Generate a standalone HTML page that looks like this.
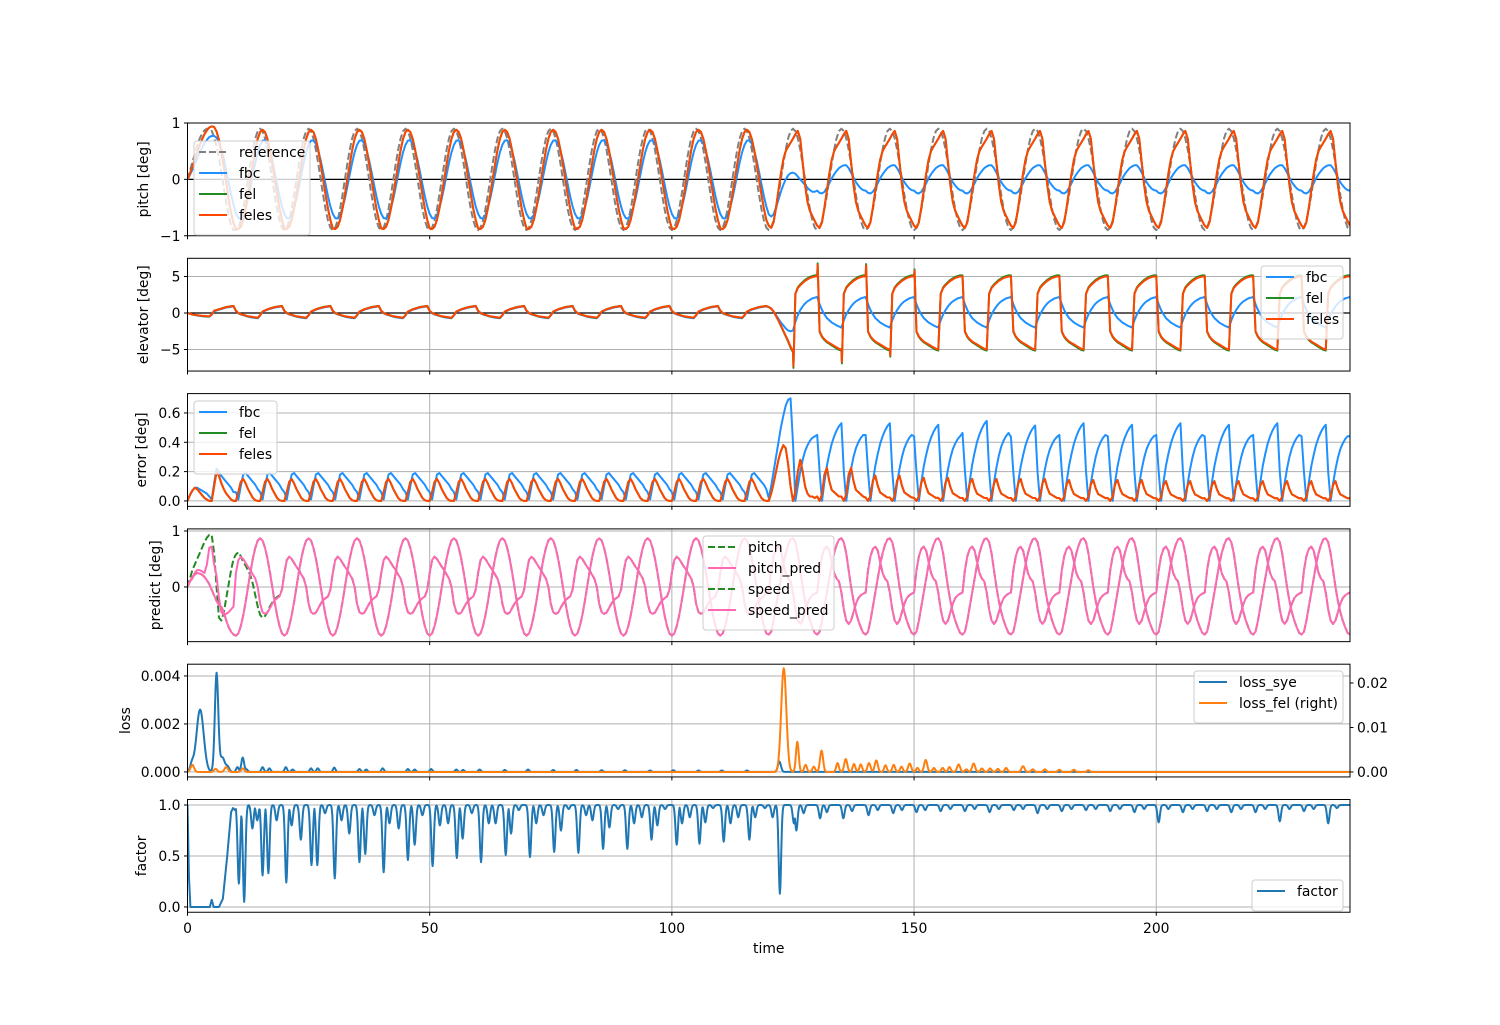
<!DOCTYPE html>
<html><head><meta charset="utf-8"><title>Flight control simulation: pitch, elevator, error, prediction, loss and factor over time</title>
<style>
html,body{margin:0;padding:0;background:#fff;}
svg{display:block;font-family:"DejaVu Sans","Liberation Sans",sans-serif;}
</style></head>
<body>
<svg id="fig" width="1500" height="1025" viewBox="0 0 1500 1025" xmlns="http://www.w3.org/2000/svg">
<rect x="0" y="0" width="1500" height="1025" fill="#ffffff"/>
</svg>
<script>
// ---------- data: one-period templates (20 samples, step 0.5 s, period 10 s) ----------
const cycleKinds = ['F','A','A','A','A','A','A','A','A','A','A','A','T','B','B','B','B','B','B','B','B','B','B','B'];
const xTickValues = [0,50,100,150,200];
const xTickLabels = ['0','50','100','150','200'];

// pitch panel
const pitchRefF = [0,0.15,0.3,0.45,0.6,0.72,0.81,0.87,0.9,0.9,0.86,0.75,0.58,0.37,0.12,-0.15,-0.42,-0.65,-0.82,-0.9];
const pitchRefA = [-0.9,-0.856,-0.728,-0.529,-0.278,0,0.278,0.529,0.728,0.856,0.9,0.856,0.728,0.529,0.278,0,-0.278,-0.529,-0.728,-0.856];
const pitchFbcF = [0,0.08,0.17,0.27,0.37,0.47,0.56,0.64,0.7,0.75,0.77,0.77,0.74,0.66,0.53,0.36,0.16,-0.06,-0.27,-0.45];
const pitchFbcA = [-0.613,-0.687,-0.694,-0.633,-0.51,-0.337,-0.131,0.088,0.298,0.48,0.613,0.687,0.694,0.633,0.51,0.337,0.131,-0.088,-0.298,-0.48];
const pitchFbcT = [-0.62,-0.66,-0.62,-0.5,-0.36,-0.22,-0.1,0.0,0.07,0.11,0.12,0.1,0.05,0.0,-0.05,-0.1,-0.15,-0.19,-0.22,-0.22];
const pitchFbcB = [-0.2,-0.24,-0.25,-0.22,-0.15,-0.07,0.02,0.09,0.15,0.2,0.23,0.25,0.25,0.2,0.12,0.03,-0.05,-0.11,-0.16,-0.19];
const pitchFelF = [0,0.1,0.22,0.35,0.48,0.6,0.71,0.8,0.87,0.92,0.94,0.93,0.85,0.7,0.48,0.22,-0.06,-0.35,-0.6,-0.78];
const pitchFelA = [-0.87,-0.88,-0.84,-0.72,-0.52,-0.27,0,0.27,0.52,0.72,0.84,0.88,0.84,0.72,0.52,0.27,0,-0.27,-0.52,-0.72];
const pitchFelB = [-0.82,-0.86,-0.76,-0.5,-0.2,0.1,0.35,0.5,0.58,0.65,0.72,0.8,0.86,0.72,0.3,-0.1,-0.4,-0.56,-0.65,-0.74];
const pitchTicks = [-1,0,1];
const pitchTickLabels = ['\u22121','0','1'];

// elevator panel
const elevFelF = [0,-0.1,-0.2,-0.25,-0.3,-0.35,-0.4,-0.4,-0.45,-0.45,-0.2,0.3,0.4,0.5,0.6,0.7,0.8,0.85,0.9,0.95];
const elevFelA = [0.3,0.0,-0.15,-0.25,-0.35,-0.45,-0.5,-0.55,-0.6,-0.65,-0.3,0.2,0.35,0.5,0.6,0.7,0.8,0.85,0.9,0.95];
const elevFelT = [0.8,0.6,0.2,-0.4,-1.0,-1.7,-2.4,-3.1,-3.8,-4.6,-5.2,2.6,3.4,3.8,4.1,4.4,4.6,4.8,4.9,5.0];
const elevFelB = [5.0,-2.5,-3.2,-3.6,-3.9,-4.1,-4.3,-4.5,-4.7,-4.9,-5.0,2.6,3.4,3.8,4.1,4.4,4.6,4.8,4.9,5.0];
const elevFbcF = [0,-0.1,-0.2,-0.28,-0.34,-0.4,-0.45,-0.48,-0.5,-0.5,-0.25,0.2,0.35,0.45,0.55,0.65,0.75,0.8,0.85,0.9];
const elevFbcA = [0.25,-0.05,-0.2,-0.3,-0.4,-0.5,-0.58,-0.63,-0.68,-0.72,-0.35,0.15,0.3,0.45,0.55,0.65,0.75,0.8,0.85,0.9];
const elevFbcT = [0.8,0.6,0.2,-0.3,-0.8,-1.3,-1.7,-2.1,-2.4,-2.5,-2.4,-1.2,-0.3,0.4,0.9,1.3,1.6,1.8,2.0,2.1];
const elevFbcB = [2.2,1.2,0.4,-0.2,-0.7,-1.0,-1.3,-1.5,-1.7,-1.85,-2.0,-1.0,-0.2,0.4,0.9,1.3,1.6,1.8,2.0,2.1];
const elevSpikeT = [125.1,130.1,135.1,140.1,145.1,150.1];
const elevSpikeV = [-7.3,6.6,-6.7,6.5,-5.8,5.8];
const elevTicks = [-5,0,5];
const elevTickLabels = ['\u22125','0','5'];

// error panel
const errFbcF = [0,0.04,0.07,0.09,0.09,0.08,0.07,0.06,0.05,0.03,0.01,0.12,0.22,0.2,0.17,0.15,0.13,0.11,0.09,0.06];
const errFbcA = [0.06,0.01,0.1,0.18,0.19,0.17,0.15,0.13,0.11,0.08,0.06,0.01,0.1,0.18,0.19,0.17,0.15,0.13,0.11,0.08];
const errFbcT = [0.02,0.1,0.2,0.3,0.4,0.5,0.58,0.65,0.69,0.7,0.4,0.0,0.1,0.2,0.28,0.34,0.38,0.41,0.43,0.44];
const errFbcB = [0.45,0.2,0.0,0.13,0.24,0.32,0.39,0.44,0.48,0.51,0.53,0.2,0.0,0.12,0.22,0.3,0.36,0.4,0.43,0.45];
const errFbcScale = [1,1,1,1,1,1,1,1,1,1,1,1,1,1,1.0,0.98,1.03,0.97,1.0,0.98,1.0,0.98,1.0,0.98];
const errFelF = [0,0.04,0.07,0.09,0.08,0.06,0.04,0.02,0.01,0.0,0.0,0.1,0.2,0.17,0.12,0.08,0.05,0.03,0.01,0.0];
const errFelA = [0.0,0.06,0.13,0.15,0.12,0.08,0.05,0.02,0.005,0.0,0.0,0.06,0.13,0.15,0.12,0.08,0.05,0.02,0.005,0.0];
const errFelT = [0.0,0.05,0.12,0.2,0.28,0.34,0.38,0.36,0.25,0.1,0.0,0.06,0.2,0.28,0.2,0.1,0.05,0.03,0.03,0.02];
const errFelB = [0.02,0.0,0.03,0.12,0.15,0.09,0.05,0.04,0.03,0.02,0.02,0.0,0.03,0.12,0.15,0.09,0.05,0.04,0.03,0.02];
const errFelScale = [1,1,1,1,1,1,1,1,1,1,1,1,1,1.5,1.15,1.05,1.0,1.0,0.95,0.95,0.9,0.9,0.9,0.9];
const errTicks = [0,0.2,0.4,0.6];
const errTickLabels = ['0.0','0.2','0.4','0.6'];

// predict panel
const predPitchF = [0,0.1,0.15,0.25,0.3,0.3,0.28,0.25,0.4,0.7,0.72,0.4,0.2,-0.2,-0.45,-0.5,-0.48,-0.45,-0.4,-0.35];
const predPitchA = [0.25,0.48,0.54,0.5,0.43,0.36,0.3,0.22,0.15,0.0,-0.3,-0.45,-0.48,-0.46,-0.38,-0.3,-0.24,-0.2,-0.17,-0.05];
const predPitchB = [-0.1,0.3,0.55,0.68,0.72,0.65,0.45,0.25,0.15,0.1,-0.1,-0.4,-0.6,-0.66,-0.6,-0.45,-0.3,-0.2,-0.15,-0.12];
const truePitchF = [0,0.15,0.3,0.4,0.5,0.6,0.7,0.8,0.88,0.93,0.93,0.6,0.0,-0.55,-0.6,-0.45,-0.2,0.05,0.3,0.5];
const truePitchG = [0.58,0.62,0.55,0.45,0.38,0.3,0.2,0.05,-0.15,-0.35,-0.5,-0.55,-0.52,-0.45,-0.35,-0.28,-0.22,-0.18,-0.15,-0.05];
const predSpeedF = [0,0.1,0.18,0.22,0.25,0.24,0.22,0.18,0.12,0.05,-0.05,-0.15,-0.25,-0.32,-0.36,-0.45,-0.6,-0.72,-0.8,-0.85];
const predSpeedA = [-0.87,-0.83,-0.7,-0.51,-0.27,0,0.27,0.51,0.7,0.83,0.87,0.83,0.7,0.51,0.27,0,-0.27,-0.51,-0.7,-0.83];
const predSpeedB = [-0.85,-0.8,-0.6,-0.35,-0.1,0.15,0.4,0.6,0.75,0.85,0.87,0.8,0.6,0.3,0.0,-0.25,-0.45,-0.6,-0.72,-0.82];
const predTicks = [0,1];
const predTickLabels = ['0','1'];

// loss panel (peak times / heights / widths)
const lossSyeT = [0.9,2.6,6.0,7.2,8.3,10.3,11.4,12.2,15.5,16.9,20.3,21.7,25.5,26.9,30.3,35.5,36.9,40.3,45.5,46.9,50.3,55.5,56.9,60.3,65.5,70.3,75.5,80.3,85.5,90.3,95.5,100.3,105.5,110.3,115.5,122.2];
const lossSyeV = [0.0003,0.0026,0.0041,0.0006,0.0002,0.0002,0.0006,0.0001,0.0002,0.00015,0.0002,0.0001,0.00015,0.00015,0.00018,0.00012,0.0001,0.00015,0.00012,0.0001,0.00012,0.0001,0.00008,0.0001,0.00008,0.0001,0.00008,0.00008,0.00007,0.00007,0.00006,0.00007,0.00006,0.00006,0.00006,0.00043];
const lossSyeW = [0.5,1.05,0.5,0.7,0.5,0.35,0.4,0.35,0.35,0.35,0.35,0.35,0.35,0.35,0.35,0.35,0.35,0.35,0.35,0.35,0.35,0.35,0.35,0.35,0.35,0.35,0.35,0.35,0.35,0.35,0.35,0.35,0.35,0.35,0.35,0.45];
const lossFelT = [1.0,5.8,8.0,11.4,123.1,125.9,127.6,129.3,130.9,134.2,135.9,137.6,139.0,140.7,142.2,144.1,145.8,147.4,149.1,150.7,152.4,154.1,155.9,157.3,159.2,160.8,162.3,164.0,165.7,167.3,169.0,172.5,174.5,177.0,180.0,183.0,186.0];
const lossFelV = [0.0016,0.0007,0.0011,0.0008,0.0233,0.0068,0.0016,0.0012,0.0048,0.002,0.0029,0.0018,0.0017,0.002,0.0026,0.0015,0.0016,0.0012,0.0019,0.0009,0.0027,0.0009,0.0009,0.0011,0.0017,0.0006,0.0019,0.0008,0.0008,0.0007,0.0009,0.0013,0.0006,0.0006,0.0005,0.0005,0.0004];
const lossFelW = [0.5,0.45,0.5,0.45,0.75,0.4,0.4,0.4,0.45,0.4,0.45,0.4,0.4,0.45,0.45,0.4,0.4,0.4,0.45,0.4,0.45,0.4,0.4,0.4,0.45,0.4,0.45,0.4,0.4,0.4,0.4,0.45,0.4,0.4,0.4,0.4,0.4];
const lossLeftTicks = [0,0.002,0.004];
const lossLeftLabels = ['0.000','0.002','0.004'];
const lossRightTicks = [0,0.01,0.02];
const lossRightLabels = ['0.00','0.01','0.02'];

// factor panel
const factorEarlyT = [0,0.3,0.6,4.6,5.0,5.4,6.5,7.3,8.2,9.0,9.4,9.8,10.0];
const factorEarlyV = [1.0,0.3,0.0,0.0,0.07,0.0,0.0,0.08,0.5,0.93,0.97,0.95,0.96];
const factorDipT = [10.6,11.7,13.4,14.4,15.5,16.7,18.4,20.4,21.5,23.4,25.6,26.8,28.4,30.4,31.8,33.4,35.5,36.7,38.6,40.5,41.7,43.6,45.5,46.9,48.5,50.6,52.1,53.8,55.6,56.8,58.7,60.6,62.2,63.6,65.7,66.8,68.4,70.7,72.0,73.5,75.7,77.1,78.7,80.7,82.3,83.6,85.8,87.1,88.9,90.8,92.2,93.8,95.8,97.0,98.6,101.0,102.1,103.7,105.7,106.9,108.5,110.7,112.1,113.7,116.0,117.2,119.2,120.8,122.3,125.2,125.7,127.2,130.6,132.0,135.4,137.2,140.6,142.5,145.7,147.5,150.5,152.3,155.5,157.5,160.5,162.5,165.6,167.5,170.6,172.5,175.5,177.5,180.5,182.5,185.5,187.5,190.5,192.5,195.5,197.5,200.5,202.5,205.5,207.5,210.5,212.5,215.5,217.5,220.5,222.5,225.5,227.5,230.5,232.5,235.5,237.3];
const factorDipV = [0.23,0.05,0.77,0.85,0.31,0.33,0.85,0.24,0.8,0.66,0.41,0.41,0.92,0.28,0.85,0.72,0.44,0.52,0.9,0.34,0.82,0.77,0.46,0.61,0.9,0.4,0.8,0.82,0.48,0.67,0.92,0.44,0.82,0.82,0.51,0.72,0.95,0.49,0.82,0.9,0.54,0.75,0.96,0.53,0.9,0.85,0.57,0.78,0.96,0.57,0.82,0.88,0.66,0.8,0.96,0.61,0.82,0.88,0.62,0.83,0.97,0.64,0.82,0.88,0.66,0.88,0.97,0.88,0.13,0.82,0.75,0.92,0.87,0.93,0.87,0.94,0.9,0.95,0.92,0.95,0.93,0.95,0.94,0.96,0.94,0.96,0.93,0.96,0.95,0.96,0.92,0.96,0.94,0.96,0.95,0.96,0.94,0.96,0.93,0.96,0.83,0.96,0.93,0.96,0.94,0.96,0.93,0.96,0.93,0.96,0.84,0.96,0.94,0.96,0.82,0.97];
const factorTicks = [0,0.5,1.0];
const factorTickLabels = ['0.0','0.5','1.0'];

// ---------- rendering ----------
const NS = 'http://www.w3.org/2000/svg';
const svg = document.getElementById('fig');
const X0 = 187.5, X1 = 1350, TMAX = 240;
function xs(t){ return X0 + t * (X1 - X0) / TMAX; }
function el(tag, attrs, parent){
  const e = document.createElementNS(NS, tag);
  for (const k in attrs) e.setAttribute(k, attrs[k]);
  (parent || svg).appendChild(e);
  return e;
}
function tile(tpl, scale, over){
  const ts = [], vs = [];
  for (let k = 0; k < 24; k++){
    let kind = (over && over[k]) || cycleKinds[k];
    let arr = tpl[kind];
    if (!arr) arr = (kind === 'T' ? (tpl.B || tpl.A) : tpl.A);
    const s = scale ? scale[k] : 1;
    for (let i = 0; i < arr.length; i++){ ts.push(10 * k + 0.5 * i); vs.push(arr[i] * s); }
  }
  const last = tpl.B || tpl.A;
  ts.push(240); vs.push(last[0] * (scale ? scale[23] : 1));
  return {ts, vs};
}
function insertSpikes(ser, T, V){
  const pts = ser.ts.map((t, i) => [t, ser.vs[i]]);
  for (let j = 0; j < T.length; j++) pts.push([T[j], V[j]]);
  pts.sort((a, b) => a[0] - b[0]);
  return {ts: pts.map(p => p[0]), vs: pts.map(p => p[1])};
}
function bumps(T, H, W){
  const ts = [], vs = [];
  for (let i = 0; i <= 2400; i++){
    const t = i / 10; let v = 0;
    for (let j = 0; j < T.length; j++){ const d = (t - T[j]) / W[j]; if (Math.abs(d) < 4) v += H[j] * Math.exp(-d * d); }
    ts.push(t); vs.push(v);
  }
  return {ts, vs};
}
function factorSeries(){
  const ts = [], vs = [];
  for (let i = 0; i <= 2400; i++){
    const t = i / 10; let v;
    if (t <= 10){
      let j = 0; while (j < factorEarlyT.length - 2 && factorEarlyT[j + 1] < t) j++;
      const a = factorEarlyT[j], b = factorEarlyT[j + 1];
      const f = Math.max(0, Math.min(1, (t - a) / (b - a)));
      v = factorEarlyV[j] + f * (factorEarlyV[j + 1] - factorEarlyV[j]);
    } else {
      v = 1.0;
      for (let j = 0; j < factorDipT.length; j++){
        const d = (t - factorDipT[j]) / 0.36;
        if (Math.abs(d) < 4){ const c = 1 - (1 - factorDipV[j]) * Math.exp(-d * d); if (c < v) v = c; }
      }
    }
    ts.push(t); vs.push(v);
  }
  return {ts, vs};
}

let clipId = 0;
function makePanel(name, top, ymin, ymax){
  const h = 112.75, bottom = top + h;
  const g = el('g', {});
  
  
  const cid = 'clip' + (clipId++);
  const cp = el('clipPath', {id: cid}, g);
  el('rect', {x: X0, y: top, width: X1 - X0, height: h}, cp);
  const ys = v => bottom - (v - ymin) / (ymax - ymin) * h;
  const grid = el('g', {}, g);
  
  
  const plot = el('g', {'clip-path': 'url(#' + cid + ')'}, g);
  
  
  const over = el('g', {}, g);
  return {g, grid, plot, over, top, bottom, ys, name};
}
function drawFrame(p){
  const r = el('rect', {x: X0, y: p.top, width: X1 - X0, height: p.bottom - p.top, fill: 'none', stroke: '#000', 'stroke-width': 1}, p.over);
  
  
  for (let i = 0; i < xTickValues.length; i++){
    const tk = el('line', {x1: xs(xTickValues[i]), x2: xs(xTickValues[i]), y1: p.bottom, y2: p.bottom + 3.5, stroke: '#000', 'stroke-width': 1}, p.over);
    
    
  }
}
function xGrid(p){
  for (let i = 1; i < xTickValues.length; i++){
    const ln = el('line', {x1: xs(xTickValues[i]), x2: xs(xTickValues[i]), y1: p.top, y2: p.bottom, stroke: '#b0b0b0', 'stroke-width': 1}, p.grid);
    
    
  }
}
function yAxis(p, ticks, labels, gridOn, right, ysFn){
  const f = ysFn || p.ys;
  for (let i = 0; i < ticks.length; i++){
    const y = f(ticks[i]);
    if (gridOn){
      const gl = el('line', {x1: X0, x2: X1, y1: y, y2: y, stroke: '#b0b0b0', 'stroke-width': 1}, p.grid);
      
      
    }
    const x = right ? X1 : X0;
    const tk = el('line', {x1: x, x2: right ? x + 3.5 : x - 3.5, y1: y, y2: y, stroke: '#000', 'stroke-width': 1}, p.over);
    
    
    const tx = el('text', {x: right ? x + 7 : x - 7, y: y + 5, 'font-size': '13.9px', 'text-anchor': right ? 'start' : 'end', fill: '#000'}, p.over);
    tx.textContent = labels[i];
    
    
  }
}
function yTitle(p, text, x){
  const cy = (p.top + p.bottom) / 2;
  const t = el('text', {x: x, y: cy, 'font-size': '13.9px', 'text-anchor': 'middle', transform: 'rotate(-90 ' + x + ' ' + cy + ')', fill: '#000'}, p.over);
  t.textContent = text;
  
  
}
function line(p, ser, color, dash, name, ysFn){
  const f = ysFn || p.ys;
  let d = '';
  for (let i = 0; i < ser.ts.length; i++) d += (i ? 'L' : 'M') + xs(ser.ts[i]).toFixed(2) + ' ' + f(ser.vs[i]).toFixed(2);
  const a = {d: d, fill: 'none', stroke: color, 'stroke-width': 2, 'stroke-linejoin': 'round'};
  if (dash) a['stroke-dasharray'] = dash;
  const e = el('path', a, p.plot);
  
  
}
function hline(p, v, color){
  const y = p.ys(v);
  const e = el('line', {x1: X0, x2: X1, y1: y, y2: y, stroke: color, 'stroke-width': 1.3}, p.plot);
  
  
}
function legend(p, x, y, w, entries){
  const lg = el('g', {}, p.over);
  
  
  const h = 10 + entries.length * 21;
  el('rect', {x: x, y: y, width: w, height: h, rx: 3, fill: '#fff', 'fill-opacity': 0.8, stroke: '#cccccc', 'stroke-width': 1}, lg);
  for (let i = 0; i < entries.length; i++){
    const e = entries[i];
    const cy = y + 11 + i * 21;
    const ent = el('g', {}, lg);
    
    
    const la = {x1: x + 5, x2: x + 33, y1: cy, y2: cy, stroke: e.color, 'stroke-width': 2};
    if (e.dash) la['stroke-dasharray'] = e.dash;
    el('line', la, ent);
    const t = el('text', {x: x + 45, y: cy + 5, 'font-size': '13.9px', fill: '#000'}, ent);
    t.textContent = e.label;
  }
}

const C_REF = '#808080', C_FBC = '#1e90ff', C_FEL = '#228b22', C_FELES = '#ff4500', C_PINK = '#ff69b4', C0 = '#1f77b4', C1 = '#ff7f0e';
const TOPS = [123, 258.3, 393.6, 528.9, 664.2, 799.5];

// Panel 1: pitch
const p1 = makePanel('pitch', TOPS[0], -1, 1);
hline(p1, 0, '#000');
line(p1, tile({F: pitchRefF, A: pitchRefA}), C_REF, '7,3', 'pitch-reference-line');
line(p1, tile({F: pitchFbcF, A: pitchFbcA, T: pitchFbcT, B: pitchFbcB}), C_FBC, null, 'pitch-fbc-line');
line(p1, tile({F: pitchFelF, A: pitchFelA, B: pitchFelB}), C_FEL, null, 'pitch-fel-line');
line(p1, tile({F: pitchFelF, A: pitchFelA, B: pitchFelB}), C_FELES, null, 'pitch-feles-line');
yAxis(p1, pitchTicks, pitchTickLabels, false);
yTitle(p1, 'pitch [deg]', 148);
drawFrame(p1);
legend(p1, 194, 141, 116, [{label: 'reference', color: C_REF, dash: '7,3'}, {label: 'fbc', color: C_FBC}, {label: 'fel', color: C_FEL}, {label: 'feles', color: C_FELES}]);

// Panel 2: elevator
const p2 = makePanel('elevator', TOPS[1], -7.95, 7.49);
xGrid(p2);
yAxis(p2, elevTicks, elevTickLabels, true);
hline(p2, 0, '#000');
line(p2, tile({F: elevFbcF, A: elevFbcA, T: elevFbcT, B: elevFbcB}), C_FBC, null, 'elevator-fbc-line');
const elevFel = insertSpikes(tile({F: elevFelF, A: elevFelA, T: elevFelT, B: elevFelB}), elevSpikeT, elevSpikeV);
line(p2, {ts: elevFel.ts, vs: elevFel.vs.map(v => v * 1.03)}, C_FEL, null, 'elevator-fel-line');
line(p2, elevFel, C_FELES, null, 'elevator-feles-line');
yTitle(p2, 'elevator [deg]', 148);
drawFrame(p2);
legend(p2, 1261, 266, 82, [{label: 'fbc', color: C_FBC}, {label: 'fel', color: C_FEL}, {label: 'feles', color: C_FELES}]);

// Panel 3: error
const p3 = makePanel('error', TOPS[2], -0.037, 0.732);
xGrid(p3);
yAxis(p3, errTicks, errTickLabels, true);
line(p3, tile({F: errFbcF, A: errFbcA, T: errFbcT, B: errFbcB}, errFbcScale), C_FBC, null, 'error-fbc-line');
const errFel = tile({F: errFelF, A: errFelA, T: errFelT, B: errFelB}, errFelScale);
line(p3, errFel, C_FEL, null, 'error-fel-line');
line(p3, errFel, C_FELES, null, 'error-feles-line');
yTitle(p3, 'error [deg]', 146);
drawFrame(p3);
legend(p3, 194, 401, 83, [{label: 'fbc', color: C_FBC}, {label: 'fel', color: C_FEL}, {label: 'feles', color: C_FELES}]);

// Panel 4: predict
const p4 = makePanel('predict', TOPS[3], -0.977, 1.037);
xGrid(p4);
yAxis(p4, predTicks, predTickLabels, true);
line(p4, tile({F: truePitchF, G: truePitchG, A: predPitchA, B: predPitchB}, null, {1: 'G'}), C_FEL, '7,3', 'predict-pitch-line');
line(p4, tile({F: predPitchF, A: predPitchA, B: predPitchB}), C_PINK, null, 'predict-pitch-pred-line');
line(p4, tile({F: predSpeedF, A: predSpeedA, B: predSpeedB}), C_FEL, '7,3', 'predict-speed-line');
line(p4, tile({F: predSpeedF, A: predSpeedA, B: predSpeedB}), C_PINK, null, 'predict-speed-pred-line');
yTitle(p4, 'predict [deg]', 160);
drawFrame(p4);
legend(p4, 703, 536, 131, [{label: 'pitch', color: C_FEL, dash: '7,3'}, {label: 'pitch_pred', color: C_PINK}, {label: 'speed', color: C_FEL, dash: '7,3'}, {label: 'speed_pred', color: C_PINK}]);

// Panel 5: loss (twin y axes)
const p5 = makePanel('loss', TOPS[4], -0.00021, 0.00449);
const ysRight = v => p5.bottom - (v + 0.00112) / (0.02422 + 0.00112) * 112.75;
xGrid(p5);
yAxis(p5, lossLeftTicks, lossLeftLabels, true);
yAxis(p5, lossRightTicks, lossRightLabels, false, true, ysRight);
line(p5, bumps(lossSyeT, lossSyeV, lossSyeW), C0, null, 'loss-sye-line');
line(p5, bumps(lossFelT, lossFelV, lossFelW), C1, null, 'loss-fel-line', ysRight);
yTitle(p5, 'loss', 130);
drawFrame(p5);
legend(p5, 1194, 671, 149, [{label: 'loss_sye', color: C0}, {label: 'loss_fel (right)', color: C1}]);

// Panel 6: factor
const p6 = makePanel('factor', TOPS[5], -0.052, 1.054);
xGrid(p6);
yAxis(p6, factorTicks, factorTickLabels, true);
line(p6, factorSeries(), C0, null, 'factor-line');
yTitle(p6, 'factor', 146);
drawFrame(p6);
legend(p6, 1252, 880, 91, [{label: 'factor', color: C0}]);

// x tick labels and title on bottom panel
for (let i = 0; i < xTickValues.length; i++){
  const t = el('text', {x: xs(xTickValues[i]), y: 933, 'font-size': '13.9px', 'text-anchor': 'middle', fill: '#000'});
  t.textContent = xTickLabels[i];
  
  
}
const xt = el('text', {x: 768.75, y: 953, 'font-size': '13.9px', 'text-anchor': 'middle', fill: '#000'});
xt.textContent = 'time';


</script>
</body></html>
